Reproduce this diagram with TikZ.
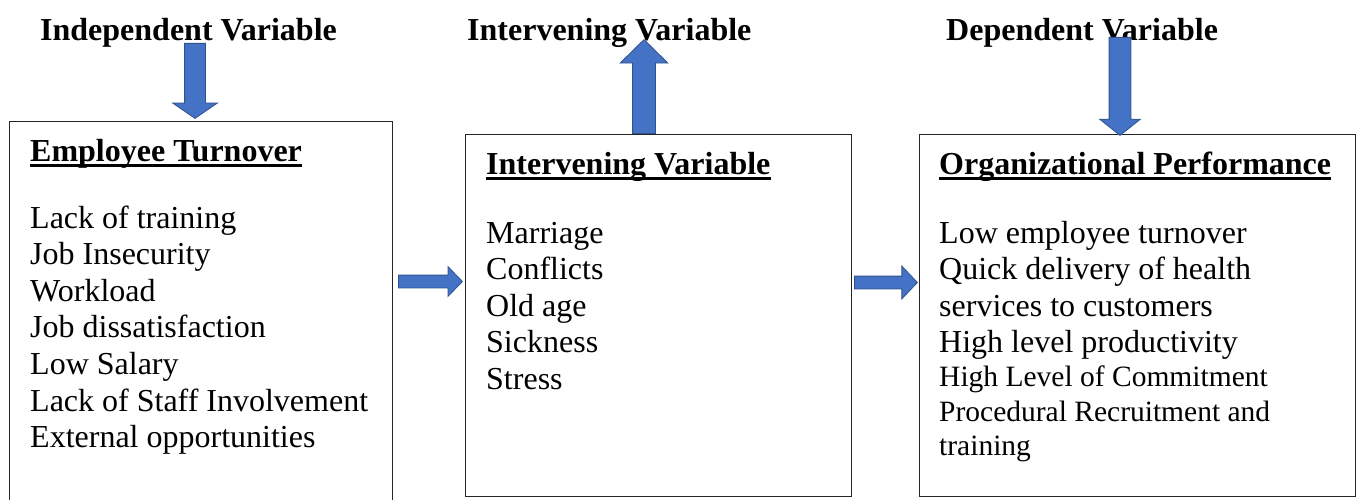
\documentclass[tikz,border=0pt]{standalone}
\usepackage{fontspec}
\setmainfont{Liberation Serif}
\usetikzlibrary{shapes.arrows}
\definecolor{arrowfill}{HTML}{4472C4}
\definecolor{arrowline}{HTML}{2F528F}
\tikzset{
  panel/.style={draw=black!85, line width=1.3pt, inner sep=0pt, anchor=north west},
  heading/.style={font=\fontsize{32}{36.6}\selectfont\bfseries, inner sep=0pt, anchor=base west},
  itemlist/.style={inner sep=0pt, anchor=base west, align=flush left},
  blockarrow/.style={single arrow, fill=arrowfill, draw=arrowline, line width=0.8pt, inner xsep=0pt, anchor=tail}
}
\begin{document}
\begin{tikzpicture}[x=1pt, y=-1pt, font=\fontsize{32}{36.6}\selectfont]
	\clip (0,0) rectangle (1359,500);

	% the three boxes
	\node [panel, minimum width=383, minimum height=400] (turnover) at (9,121) {};
	\node [panel, minimum width=386, minimum height=362] (intervening) at (465,134) {};
	\node [panel, minimum width=436, minimum height=362] (performance) at (919,134) {};

	% headings over the boxes
	\node [heading] (indeplabel) at (40,41) {Independent Variable};
	\node [heading] (intervlabel) at (467,41) {Intervening Variable};
	\node [heading] (deplabel) at (946,41) {Dependent Variable};

	% box titles, underlined
	\node [heading] (turnovertitle) at (30,161) {Employee Turnover};
	\node [heading] (interveningtitle) at (486,174) {Intervening Variable};
	\node [heading] (performancetitle) at (939,174) {Organizational Performance};
	\draw [line width=3pt] ([yshift=-4pt]turnovertitle.base west) -- ([yshift=-4pt]turnovertitle.base east);
	\draw [line width=3pt] ([yshift=-4pt]interveningtitle.base west) -- ([yshift=-4pt]interveningtitle.base east);
	\draw [line width=3pt] ([yshift=-4pt]performancetitle.base west) -- ([yshift=-4pt]performancetitle.base east);

	% lists
	\node [itemlist, text width=355] (turnoveritems) at (30,228) {Lack of training\\ Job Insecurity\\ Workload\\ Job dissatisfaction\\ Low Salary\\ Lack of Staff Involvement\\ External opportunities};
	\node [itemlist, text width=355] (interveningitems) at (486,243) {Marriage\\ Conflicts\\ Old age\\ Sickness\\ Stress};
	\node [itemlist, text width=410] (performanceitems) at (939,243) {Low employee turnover\\ Quick delivery of health\\ services to customers\\ High level productivity\\[-2.5pt] {\fontsize{29.5}{34}\selectfont High Level of Commitment}\\[-2pt] {\fontsize{29.5}{34}\selectfont Procedural Recruitment and}\\[-2.5pt] {\fontsize{29.5}{34}\selectfont training}};

	% block arrows
	\node [blockarrow, rotate=-90, minimum height=75, inner ysep=10pt, single arrow head extend=12pt, single arrow tip angle=111] (indeparrow) at (195,43) {};
	\node [blockarrow, rotate=90, minimum height=94, inner ysep=11pt, single arrow head extend=12.5pt, single arrow tip angle=91] (intervarrow) at (644,134) {};
	\node [blockarrow, rotate=-90, minimum height=98, inner ysep=10.5pt, single arrow head extend=9.5pt, single arrow tip angle=103] (deparrow) at (1120,37) {};
	\node [blockarrow, minimum height=64, inner ysep=6pt, single arrow head extend=8.5pt, single arrow tip angle=92] (firstlink) at (398,281.5) {};
	\node [blockarrow, minimum height=63, inner ysep=6pt, single arrow head extend=10pt, single arrow tip angle=93] (secondlink) at (854,282.5) {};

\end{tikzpicture}
\end{document}
